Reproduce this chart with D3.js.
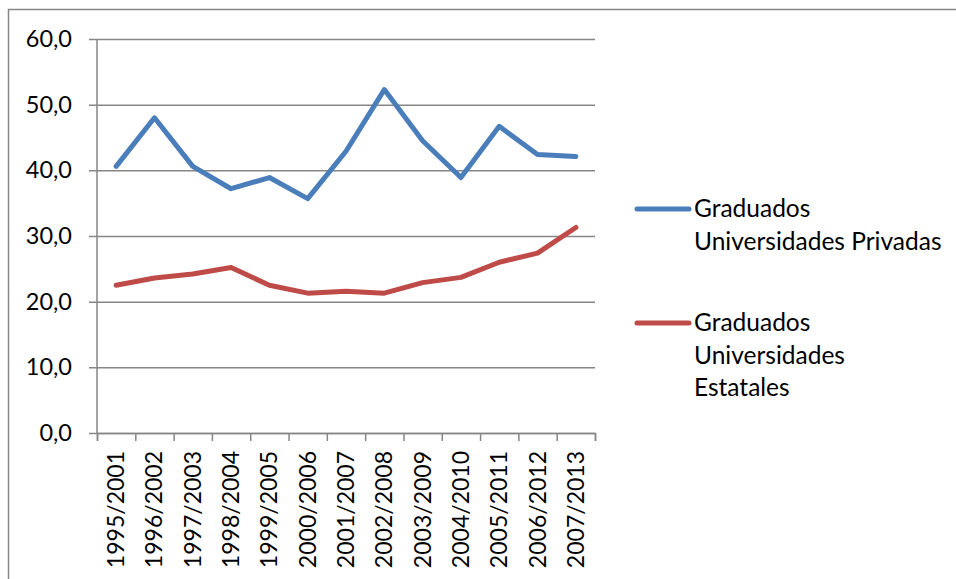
<!DOCTYPE html>
<html>
<head>
<meta charset="utf-8">
<script src="https://cdn.jsdelivr.net/npm/d3@7"></script>
<style>
  body { margin: 0; background: #fff; }
  svg text { font-family: Lato, "Noto Sans", sans-serif; fill: #000; }
</style>
</head>
<body>
<div class="line-chart-container"></div>
<script>
// datos
const periodos = ['1995/2001','1996/2002','1997/2003','1998/2004','1999/2005','2000/2006','2001/2007',
                  '2002/2008','2003/2009','2004/2010','2005/2011','2006/2012','2007/2013'];
const privadas = [40.6, 48.0, 40.6, 37.2, 38.9, 35.7, 42.9, 52.3, 44.5, 38.9, 46.7, 42.4, 42.1];
const estatales = [22.5, 23.6, 24.2, 25.2, 22.5, 21.3, 21.6, 21.3, 22.9, 23.7, 26.0, 27.4, 31.3];
const yTicks = [0, 10, 20, 30, 40, 50, 60];
const series = [
  {name: ['Graduados', 'Universidades Privadas'], color: '#4a7ebb', values: privadas},
  {name: ['Graduados', 'Universidades', 'Estatales'], color: '#be4b48', values: estatales}
];

const svg_width = 956, svg_height = 579;
const chart_margin = {top: 39, left: 97};
const chart_width = 498, chart_height = 394;

const svg = d3.select('.line-chart-container').append('svg')
  .attr('width', svg_width).attr('height', svg_height);

// marco exterior
svg.append('rect').attr('x', 8.5).attr('y', 9.5)
  .attr('width', 1000).attr('height', 1000)
  .style('fill', 'none').style('stroke', '#868686').style('stroke-width', 1.5);

const g = svg.append('g').attr('transform', `translate(${chart_margin.left},${chart_margin.top})`);

const xScale = d3.scaleBand().domain(periodos).range([0, chart_width]);
const yScale = d3.scaleLinear().domain([0, 60]).range([chart_height, 0]);

// eje Y con lineas de grilla
const yAxis = d3.axisLeft(yScale).tickValues(yTicks)
  .tickFormat(d => d3.format('.1f')(d).replace('.', ','))
  .tickSizeInner(-chart_width).tickSizeOuter(0).tickPadding(25);
const yAxisDraw = g.append('g').attr('class', 'y axis').call(yAxis);
yAxisDraw.select('.domain').remove();
yAxisDraw.selectAll('.tick line').attr('x1', -8)
  .style('stroke', '#868686').style('stroke-width', 1.5);
yAxisDraw.selectAll('text').style('font-size', '23.5px');

// eje vertical
g.append('line').attr('x1', 0).attr('x2', 0).attr('y1', 0).attr('y2', chart_height)
  .style('stroke', '#868686').style('stroke-width', 1.5);

// eje X
const xAxis = d3.axisBottom(d3.scaleLinear().domain([0, periodos.length]).range([0, chart_width]))
  .ticks(periodos.length).tickFormat('').tickSize(8).tickSizeOuter(8);
const xAxisDraw = g.append('g').attr('class', 'x axis')
  .attr('transform', `translate(0,${chart_height})`).call(xAxis);
xAxisDraw.selectAll('path, line').style('stroke', '#868686').style('stroke-width', 1.5);

g.append('g').selectAll('.x-label').data(periodos).enter()
  .append('text')
  .attr('transform', d => `translate(${xScale(d) + xScale.bandwidth() / 2 + 8},${chart_height + 18}) rotate(-90)`)
  .style('text-anchor', 'end')
  .style('font-size', '23px')
  .text(d => d);

// lineas
const lineGen = d3.line()
  .x((d, i) => xScale(periodos[i]) + xScale.bandwidth() / 2)
  .y(d => yScale(d));
g.selectAll('.line-series').data(series).enter()
  .append('path')
  .attr('class', 'line-series')
  .attr('d', d => lineGen(d.values))
  .style('fill', 'none').style('stroke', d => d.color)
  .style('stroke-width', 5).style('stroke-linejoin', 'round').style('stroke-linecap', 'round');

// leyenda
const legendY = [209, 323];
const legend = svg.append('g').attr('class', 'legend')
  .selectAll('g').data(series).enter()
  .append('g').attr('transform', (d, i) => `translate(637,${legendY[i]})`);
legend.append('line').attr('x1', 0).attr('x2', 52)
  .style('stroke', d => d.color).style('stroke-width', 5).style('stroke-linecap', 'round');
legend.each(function(d) {
  const t = d3.select(this).append('text').attr('x', 57).attr('y', 8).style('font-size', '24.5px');
  d.name.forEach((s, i) => t.append('tspan').attr('x', 57).attr('dy', i === 0 ? 0 : 32.5).text(s));
});
</script>
</body>
</html>
